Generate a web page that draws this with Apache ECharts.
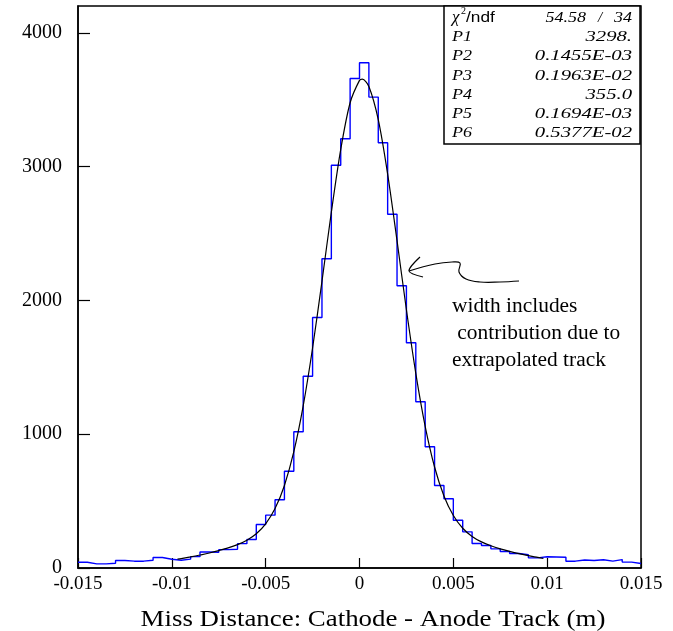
<!DOCTYPE html>
<html>
<head>
<meta charset="utf-8">
<script src="https://cdn.jsdelivr.net/npm/echarts/dist/echarts.min.js"></script>
<style>
html,body{margin:0;padding:0;background:#fff;}
#chart{width:673px;height:631px;}
</style>
</head>
<body>
<div id="chart"></div>
<script>
// ---- data ----
const binMin = -0.015;
const binMax = 0.015;
const binWidth = 0.0005;
const counts = [
  43, 31, 31, 36, 56, 51, 51, 58, 78, 65,
  58, 66, 85, 120, 118, 137, 140, 182, 213, 325,
  395, 510, 723, 1018, 1433, 1872, 2311, 3010, 3208, 3658,
  3776, 3519, 3178, 2644, 2109, 1683, 1242, 906, 617, 517,
  357, 270, 183, 168, 143, 123, 108, 99, 76, 84,
  82, 80, 51, 60, 56, 62, 51, 63, 44, 34
];
const fitX = [-0.0097, -0.0095, -0.009, -0.0085, -0.008, -0.0075, -0.007, -0.0065, -0.006, -0.0055,
  -0.005, -0.0045, -0.004, -0.0035, -0.003, -0.0025, -0.002, -0.0015, -0.001, -0.0005,
  0, 0.00015, 0.0005, 0.001, 0.0015, 0.002, 0.0025, 0.003, 0.0035, 0.004,
  0.0045, 0.005, 0.0055, 0.006, 0.0065, 0.007, 0.0075, 0.008, 0.0085, 0.009, 0.0095, 0.0098];
const fitY = [66, 70, 83, 97, 112, 130, 150, 175, 208, 256,
  330, 444, 617, 869, 1212, 1644, 2142, 2659, 3128, 3477,
  3644, 3653, 3599, 3351, 2944, 2446, 1930, 1455, 1059, 755,
  538, 392, 297, 236, 195, 166, 143, 124, 107, 92, 79, 71];
const xTicks = ['-0.015', '-0.01', '-0.005', '0', '0.005', '0.01', '0.015'];
const xTickValues = [-0.015, -0.01, -0.005, 0, 0.005, 0.01, 0.015];
const yTicks = ['0', '1000', '2000', '3000', '4000'];
const yTickValues = [0, 1000, 2000, 3000, 4000];
const statLabels = ['P1', 'P2', 'P3', 'P4', 'P5', 'P6'];
const statValues = ['3298.', '0.1455E-03', '0.1963E-02', '355.0', '0.1694E-03', '0.5377E-02'];
const chiValue = '54.58';
const ndfValue = '34';
const xTitle = 'Miss Distance: Cathode - Anode Track (m)';
const noteLines = ['width includes', ' contribution due to', 'extrapolated track'];

// ---- build series data ----
const histData = counts.map((c, i) => [+(binMin + i * binWidth).toFixed(4), c]);
histData.push([binMax, counts[counts.length - 1]]);
const fitData = fitX.map((x, i) => [x, fitY[i]]);

const serif = 'Liberation Serif';
const chart = echarts.init(document.getElementById('chart'), null, {renderer: 'canvas'});

const graphics = [];
// stats box
graphics.push({type: 'rect', z: 100, shape: {x: 444, y: 6, width: 196, height: 138},
  style: {fill: '#fff', stroke: '#000', lineWidth: 1.5}});
graphics.push({type: 'text', z: 101, x: 452, y: 18, style: {text: 'χ', font: 'italic 17px ' + serif, fill: '#000', textVerticalAlign: 'middle'}});
graphics.push({type: 'text', z: 101, x: 461, y: 11, style: {text: '2', font: '10px ' + serif, fill: '#000', textVerticalAlign: 'middle'}});
graphics.push({type: 'text', z: 101, x: 466, y: 18, scaleX: 1.15, style: {text: '/ndf', font: '15px "Liberation Sans"', fill: '#000', textVerticalAlign: 'middle'}});
graphics.push({type: 'text', z: 101, x: 586, y: 18, scaleX: 1.2, style: {text: chiValue, font: 'italic 15px ' + serif, fill: '#000', textAlign: 'right', textVerticalAlign: 'middle'}});
graphics.push({type: 'text', z: 101, x: 600, y: 18, style: {text: '/', font: 'italic 15px ' + serif, fill: '#000', textAlign: 'center', textVerticalAlign: 'middle'}});
graphics.push({type: 'text', z: 101, x: 632, y: 18, scaleX: 1.2, style: {text: ndfValue, font: 'italic 15px ' + serif, fill: '#000', textAlign: 'right', textVerticalAlign: 'middle'}});
statLabels.forEach((lab, i) => {
  const y = 37 + i * 19.3;
  graphics.push({type: 'text', z: 101, x: 452, y: y, scaleX: 1.2, style: {text: lab, font: 'italic 15px ' + serif, fill: '#000', textVerticalAlign: 'middle'}});
  graphics.push({type: 'text', z: 101, x: 632, y: y, scaleX: 1.38, style: {text: statValues[i], font: 'italic 15px ' + serif, fill: '#000', textAlign: 'right', textVerticalAlign: 'middle'}});
});
// annotation arrow (hand-drawn)
graphics.push({type: 'polyline', z: 90, shape: {points: [[519, 281], [500, 282], [480, 282], [466, 279], [459, 272], [460, 263], [452, 262], [435, 264], [409, 271]], smooth: 0.4},
  style: {stroke: '#000', lineWidth: 1.2, fill: null}});
graphics.push({type: 'polyline', z: 90, shape: {points: [[420, 257], [409, 271], [423, 277]], smooth: 0.3},
  style: {stroke: '#000', lineWidth: 1.2, fill: null}});
noteLines.forEach((t, i) => {
  graphics.push({type: 'text', z: 90, x: 452, y: 307 + i * 27, scaleX: 1.07, style: {text: t, font: '20px ' + serif, fill: '#000', textVerticalAlign: 'middle'}});
});
// x-axis title
graphics.push({type: 'text', z: 90, x: 373, y: 620, scaleX: 1.12, style: {text: xTitle, font: '24px ' + serif, fill: '#000', textAlign: 'center', textVerticalAlign: 'middle'}});

chart.setOption({
  animation: false,
  backgroundColor: '#fff',
  grid: {left: 78, right: 32, top: 6, bottom: 63, show: true, borderColor: '#000', borderWidth: 1.5, containLabel: false},
  xAxis: {
    type: 'value', min: binMin, max: binMax, interval: 0.005,
    axisLine: {show: true, onZero: false, lineStyle: {color: '#000', width: 1.5}},
    axisTick: {show: true, inside: true, length: 10, lineStyle: {color: '#000', width: 1.2}},
    splitLine: {show: false},
    axisLabel: {color: '#000', fontFamily: serif, fontSize: 19, margin: 7,
      formatter: v => { const idx = Math.round((v - binMin) / 0.005); return xTicks[idx] || ''; }}
  },
  yAxis: {
    type: 'value', min: 0, max: 4200, interval: 1000,
    axisLine: {show: true, onZero: false, lineStyle: {color: '#000', width: 1.5}},
    axisTick: {show: true, inside: true, length: 12, customValues: yTickValues, lineStyle: {color: '#000', width: 1.2}},
    splitLine: {show: false},
    axisLabel: {color: '#000', fontFamily: serif, fontSize: 20, margin: 16, customValues: yTickValues,
      formatter: v => { const idx = Math.round(v / 1000); return (v % 1000 === 0 && yTicks[idx]) ? yTicks[idx] : ''; }}
  },
  series: [
    {type: 'line', name: 'hist', data: histData, step: 'end', symbol: 'none',
      lineStyle: {color: '#0000ff', width: 1.4}, z: 3},
    {type: 'line', name: 'fit', data: fitData, smooth: 0.3, symbol: 'none',
      lineStyle: {color: '#000', width: 1.2}, z: 4}
  ],
  graphic: graphics
});
</script>
</body>
</html>
